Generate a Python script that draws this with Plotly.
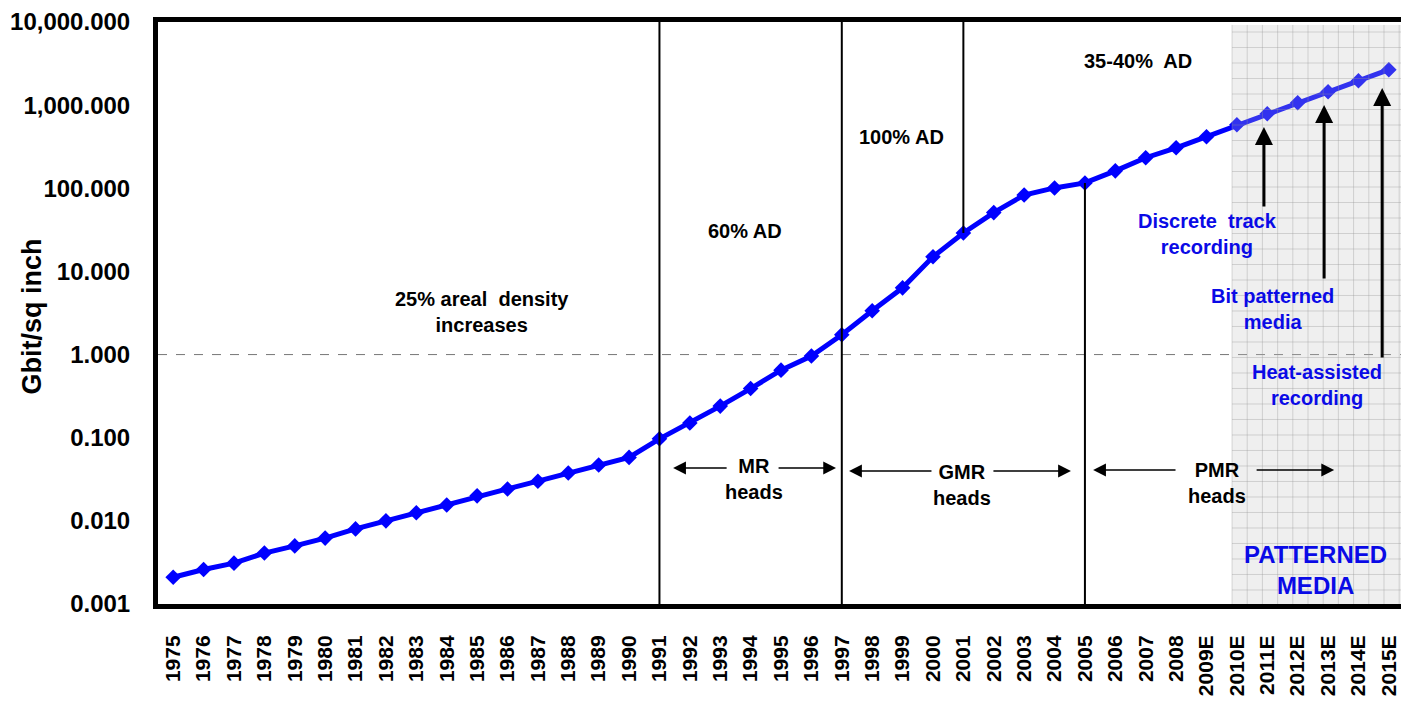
import plotly.graph_objects as go

# Hard-disk areal density history and projection (Gbit per square inch)
years = ["1975", "1976", "1977", "1978", "1979", "1980", "1981", "1982", "1983",
         "1984", "1985", "1986", "1987", "1988", "1989", "1990", "1991", "1992",
         "1993", "1994", "1995", "1996", "1997", "1998", "1999", "2000", "2001",
         "2002", "2003", "2004", "2005", "2006", "2007", "2008", "2009E", "2010E",
         "2011E", "2012E", "2013E", "2014E", "2015E"]
density = [0.0021, 0.0026, 0.0031, 0.0041, 0.005, 0.0062, 0.008, 0.010, 0.0125,
           0.0155, 0.020, 0.0242, 0.030, 0.0377, 0.047, 0.058, 0.097, 0.15,
           0.24, 0.39, 0.65, 0.96, 1.73, 3.36, 6.35, 15, 29,
           51, 83, 101, 116, 162, 233, 307, 417, 581,
           788, 1070, 1450, 1966, 2667]

y_tickvals = [0.001, 0.01, 0.1, 1, 10, 100, 1000, 10000]
y_ticktext = ["0.001", "0.010", "0.100", "1.000", "10.000", "100.000",
              "1,000.000", "10,000.000"]

# technology transition years
full_dividers = ["1991", "1997"]
top_divider = "2001"
bottom_divider = "2005"

FONT = "Arial, 'Liberation Sans', sans-serif"
BLUE = "#0000ff"
TXT_BLUE = "#0a0ae6"

fig = go.Figure()

# density curve
fig.add_trace(go.Scatter(x=years, y=density, mode="lines+markers",
                         line=dict(color=BLUE, width=5),
                         marker=dict(symbol="diamond", size=12, color=BLUE),
                         showlegend=False))

# divider lines
for yr in full_dividers:
    fig.add_trace(go.Scatter(x=[yr, yr], y=[1e-3, 1e4], mode="lines",
                             line=dict(color="black", width=2),
                             hoverinfo="skip", showlegend=False))
i_top = years.index(top_divider)
fig.add_trace(go.Scatter(x=[top_divider, top_divider], y=[density[i_top], 1e4],
                         mode="lines", line=dict(color="black", width=2),
                         hoverinfo="skip", showlegend=False))
i_bot = years.index(bottom_divider)
fig.add_trace(go.Scatter(x=[bottom_divider, bottom_divider], y=[1e-3, density[i_bot]],
                         mode="lines", line=dict(color="black", width=2),
                         hoverinfo="skip", showlegend=False))

shapes = []
# dashed reference line at 1 Gbit/sq inch
shapes.append(dict(type="line", xref="paper", x0=0, x1=1, yref="y", y0=1, y1=1,
                   line=dict(color="#777777", width=1, dash="dash"), layer="below"))

# patterned media era: translucent grey panel with a fine grid
x_shade = 34.84
shapes.append(dict(type="rect", xref="x", x0=x_shade, x1=40.4, yref="paper", y0=0, y1=0.995,
                   fillcolor="rgba(193,193,193,0.26)", line=dict(width=0), layer="above"))
k = 0
while x_shade + 0.5 * k < 40.4:
    xv = x_shade + 0.5 * k
    shapes.append(dict(type="line", xref="x", x0=xv, x1=xv, yref="paper", y0=0, y1=0.995,
                       line=dict(color="rgba(150,150,150,0.35)", width=1), layer="above"))
    k += 1
gy = 0.2904 % 0.02663
while gy < 0.995:
    shapes.append(dict(type="line", xref="x", x0=x_shade, x1=40.4, yref="paper", y0=gy, y1=gy,
                       line=dict(color="rgba(150,150,150,0.35)", width=1), layer="above"))
    gy += 0.02663

annotations = []


def label(text, x, y, size=20, color="black"):
    annotations.append(dict(text=text, x=x, y=y, xref="x", yref="paper",
                            showarrow=False, xanchor="center", yanchor="middle",
                            font=dict(family=FONT, size=size, color=color, weight="bold")))


label("25% areal  density<br>increases", 10.16, 0.5017)
label("60% AD", 18.82, 0.641)
label("100% AD", 23.98, 0.8024)
label("35-40%  AD", 31.75, 0.933)
label("MR<br>heads", 19.11, 0.2148)
label("GMR<br>heads", 25.96, 0.2045)
label("PMR<br>heads", 34.35, 0.2079)
label("Discrete  track<br>recording", 34.02, 0.6357, color=TXT_BLUE)
label("Bit patterned<br>media", 36.16, 0.5069, color=TXT_BLUE)
label("Heat-assisted<br>recording", 37.64, 0.3763, color=TXT_BLUE)
label("PATTERNED<br>MEDIA", 37.6, 0.0584, size=24, color=TXT_BLUE)


def h_arrow(tip, tail, y):
    annotations.append(dict(text="", x=tip, y=y, xref="x", yref="paper",
                            ax=tail, ay=0, axref="x", ayref="pixel",
                            showarrow=True, arrowhead=2, arrowsize=1.6,
                            arrowwidth=1.6, arrowcolor="black"))


def v_arrow(x, tip_y, length):
    annotations.append(dict(text="", x=x, y=tip_y, xref="x", yref="paper",
                            ax=0, ay=length, showarrow=True, arrowhead=2,
                            arrowsize=1.2, arrowwidth=3, arrowcolor="black"))


# head-technology spans
h_arrow(16.45, 18.26, 0.2337)
h_arrow(21.81, 19.87, 0.2337)
h_arrow(22.24, 25.0, 0.2285)
h_arrow(29.54, 26.94, 0.2285)
h_arrow(30.27, 33.03, 0.2302)
h_arrow(38.2, 35.6, 0.2302)

# recording technology pointers
v_arrow(35.89, 0.8196, 81)
v_arrow(37.87, 0.8574, 175)
v_arrow(39.78, 0.8866, 271)

# y-axis title
annotations.append(dict(text="Gbit/sq inch", x=-0.1006, y=0.494,
                        xref="paper", yref="paper", showarrow=False, textangle=-90,
                        xanchor="center", yanchor="middle",
                        font=dict(family=FONT, size=27, color="black", weight="bold")))

fig.update_layout(
    width=1401, height=701,
    margin=dict(l=158, r=0, t=22, b=97),
    paper_bgcolor="white", plot_bgcolor="white",
    shapes=shapes, annotations=annotations,
    xaxis=dict(type="category", categoryorder="array", categoryarray=years,
               range=[-0.5, 40.4], tickangle=-90,
               tickfont=dict(family=FONT, size=21, color="black", weight="bold"),
               showgrid=False, zeroline=False,
               showline=True, linewidth=5, linecolor="black", mirror=True,
               ticks="outside", ticklen=18, tickcolor="rgba(0,0,0,0)"),
    yaxis=dict(type="log", range=[-3, 4], tickvals=y_tickvals, ticktext=y_ticktext,
               tickfont=dict(family=FONT, size=24, color="black", weight="bold"),
               showgrid=False, zeroline=False,
               showline=True, linewidth=5, linecolor="black",
               ticks="outside", ticklen=18, tickcolor="rgba(0,0,0,0)"),
)

fig.write_html("out.html")
